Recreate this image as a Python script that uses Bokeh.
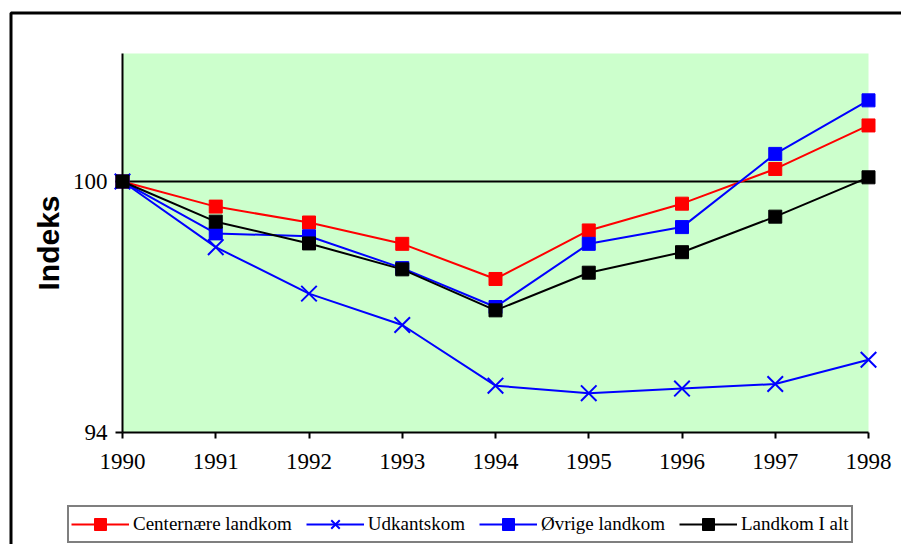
from bokeh.plotting import figure
from bokeh.models import Range1d, FixedTicker, Legend, LegendItem, BoxAnnotation, LinearAxis
from bokeh.embed import file_html
from bokeh.resources import INLINE

years = [1990, 1991, 1992, 1993, 1994, 1995, 1996, 1997, 1998]
centernaere = [100, 99.40, 99.02, 98.51, 97.67, 98.83, 99.47, 100.30, 101.34]
udkant = [100, 98.43, 97.32, 96.57, 95.12, 94.94, 95.05, 95.16, 95.74]
ovrige = [100, 98.76, 98.69, 97.93, 97.00, 98.51, 98.91, 100.66, 101.94]
ialt = [100, 99.04, 98.52, 97.90, 96.92, 97.82, 98.31, 99.16, 100.10]
names = ["Centernære landkom", "Udkantskom", "Øvrige landkom", "Landkom I alt"]
y_ticks = [94, 100]
base_index = 100
y_min, y_max = 94, 103.06
y_label = "Indeks"

# layout (pixels)
W, H = 901, 544
left_px, top_px = 122, 53           # plot area origin inside canvas
plot_w, plot_h = 746, 379
xs = (years[-1] - years[0]) / plot_w
ys = (y_max - y_min) / plot_h
x_range = Range1d(years[0] - left_px * xs, years[0] + (W - left_px) * xs)
y_range = Range1d(y_min - (H - top_px - plot_h) * ys, y_max + top_px * ys)

p = figure(
    output_backend="svg", toolbar_location=None,
    frame_width=W, frame_height=H,
    min_border_left=0, min_border_top=0, min_border_right=0, min_border_bottom=0,
    x_range=x_range, y_range=y_range,
    x_axis_location=None, y_axis_location=None,
    background_fill_color="white", border_fill_color="white",
    outline_line_color=None,
)
p.xgrid.visible = False
p.ygrid.visible = False

# outer chart border (only its left and top edges fall inside the picture)
p.add_layout(BoxAnnotation(left=10.5, right=W + 40, top=12.5, bottom=H + 40,
                           left_units="canvas", right_units="canvas",
                           top_units="canvas", bottom_units="canvas",
                           fill_color=None, fill_alpha=0,
                           line_color="black", line_alpha=1, line_width=3,
                           level="underlay"))

p.add_layout(BoxAnnotation(left=years[0], right=years[-1], bottom=y_min, top=y_max,
                           fill_color="#CCFFCC", fill_alpha=1, line_color=None,
                           level="underlay"))

xaxis = LinearAxis(fixed_location=y_min, bounds=(years[0], years[-1]),
                   ticker=FixedTicker(ticks=years))
yaxis = LinearAxis(fixed_location=years[0], bounds=(y_min, y_max),
                   ticker=FixedTicker(ticks=y_ticks), axis_label=y_label)
p.add_layout(xaxis, "below")
p.add_layout(yaxis, "left")
for ax in (xaxis, yaxis):
    ax.axis_line_color = "black"
    ax.axis_line_width = 2
    ax.major_tick_line_color = "black"
    ax.major_tick_line_width = 2
    ax.minor_tick_line_color = None
    ax.major_tick_in = 0
    ax.major_label_text_font = "Liberation Serif"
    ax.major_label_text_font_size = "23px"
    ax.major_label_text_color = "black"
xaxis.major_tick_out = 6
xaxis.major_label_standoff = 15
yaxis.major_tick_out = 7
yaxis.major_label_standoff = 8
yaxis.axis_label_text_font = "Liberation Sans"
yaxis.axis_label_text_font_style = "bold"
yaxis.axis_label_text_font_size = "30px"
yaxis.axis_label_text_color = "black"
yaxis.axis_label_standoff = 5

# reference line at the index base
p.segment(x0=[years[0]], y0=[base_index], x1=[years[-1]], y1=[base_index],
          line_color="black", line_width=2)

items = []
specs = [
    (centernaere, "red", "square", 13),
    (udkant, "blue", "x", 22),
    (ovrige, "blue", "square", 13),
    (ialt, "black", "square", 13),
]
for (vals, col, mk, sz), nm in zip(specs, names):
    lr = p.line(years, vals, line_color=col, line_width=2)
    if mk == "x":
        sr = p.scatter(years, vals, marker="x", size=sz, line_color=col, line_width=2)
    else:
        sr = p.scatter(years, vals, marker="square", size=sz, fill_color=col, line_color=col, line_width=1)
    items.append(LegendItem(label=nm, renderers=[lr, sr]))

legend = Legend(
    items=items, orientation="horizontal", location=(67, 1),
    label_text_font="Liberation Serif", label_text_font_size="19px",
    label_text_color="black",
    glyph_width=58, glyph_height=30, label_height=30, label_standoff=4,
    spacing=14, padding=2, margin=0,
    border_line_color="black", border_line_width=2,
    background_fill_color="white", background_fill_alpha=1,
)
p.add_layout(legend, "center")

open("out.html", "w").write(file_html(p, INLINE))
